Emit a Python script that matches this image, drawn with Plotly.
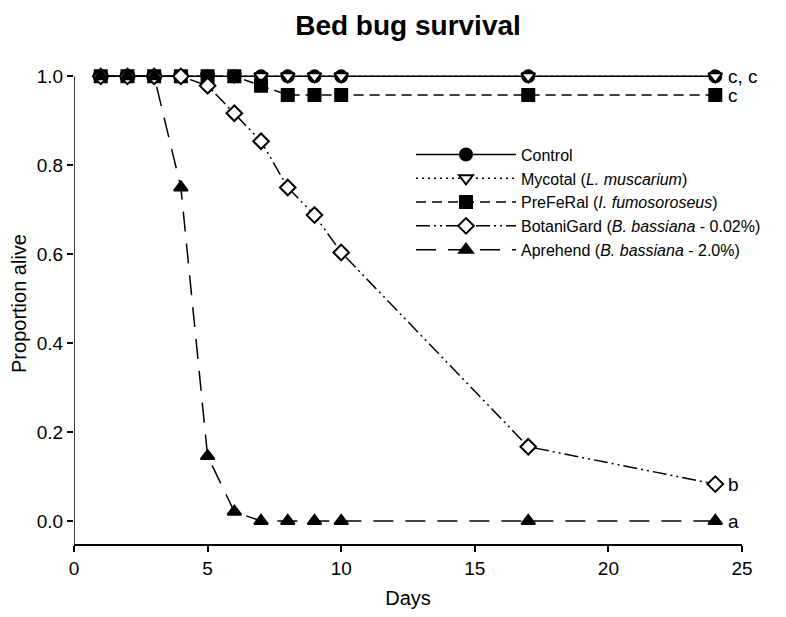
import plotly.graph_objects as go

# Jours d'observation
days = [1, 2, 3, 4, 5, 6, 7, 8, 9, 10, 17, 24]

# Proportion vivante par traitement
control = [1, 1, 1, 1, 1, 1, 1, 1, 1, 1, 1, 1]
mycotal = [1, 1, 1, 1, 1, 1, 1, 1, 1, 1, 1, 1]
preferal = [1, 1, 1, 1, 1, 1, 0.979, 0.958, 0.958, 0.958, 0.958, 0.958]
botanigard = [1, 1, 1, 1, 0.979, 0.917, 0.854, 0.75, 0.688, 0.604, 0.167, 0.083]
aprehend = [1, 1, 1, 0.75, 0.146, 0.021, 0, 0, 0, 0, 0, 0]

# Lettres de significativité (dernier jour)
letters = ["c, c", "c", "b", "a"]
letter_y = [1.0, 0.958, 0.083, 0.0]

FONT = "Liberation Sans, Arial, sans-serif"

series = [
    ("Control", control, "solid", "circle", "black"),
    ("Mycotal (<i>L. muscarium</i>)", mycotal, "2px,4px", "triangle-down", "white"),
    ("PreFeRal (<i>I. fumosoroseus</i>)", preferal, "10px,6px", "square", "black"),
    ("BotaniGard (<i>B. bassiana</i> - 0.02%)", botanigard, "14px,4px,2px,4px,2px,4px", "diamond", "white"),
    ("Aprehend (<i>B. bassiana</i> - 2.0%)", aprehend, "20px,12px", "triangle-up", "black"),
]

fig = go.Figure()
for name, vals, dash, symbol, fill in series:
    fig.add_trace(go.Scatter(
        x=days, y=vals, name=name, mode="lines+markers",
        line=dict(color="black", width=1.5, dash=dash),
        marker=dict(symbol=symbol, size=12, color=fill,
                    line=dict(color="black", width=2)),
        cliponaxis=False,
    ))

for txt, yv in zip(letters, letter_y):
    fig.add_annotation(x=24, y=yv, text=txt, showarrow=False, xanchor="left",
                       xshift=11, font=dict(size=19, color="black", family=FONT))

# axe vertical dessiné à la main (s'arrête à 1.0)
fig.add_shape(type="line", xref="x", yref="y", x0=0, x1=0, y0=-0.0517, y1=1.0,
              line=dict(color="black", width=1.5))

# la page ajoute 8px de marge autour du graphique -> on compense
fig.update_layout(
    width=770, height=601,
    margin=dict(l=66, r=34, t=54.65, b=65),
    paper_bgcolor="white", plot_bgcolor="white",
    font=dict(family=FONT, size=19, color="black"),
    title=dict(text="<b>Bed bug survival</b>", x=0.5, xref="paper", xanchor="center",
               y=0.972, yref="container", yanchor="middle", font=dict(size=28, family=FONT)),
    showlegend=True,
    legend=dict(x=0.5045, y=0.845, xanchor="left", yanchor="top", itemwidth=100,
                bgcolor="rgba(0,0,0,0)", font=dict(size=16, family=FONT),
                tracegroupgap=0, itemsizing="trace"),
    xaxis=dict(range=[0, 25], tickvals=[0, 5, 10, 15, 20, 25], showgrid=False, zeroline=False,
               showline=True, linecolor="black", linewidth=1.5, ticks="outside", ticklen=6,
               tickwidth=1.5, tickcolor="black", automargin=False,
               title=dict(text="Days", font=dict(size=20), standoff=18),
               tickfont=dict(size=19)),
    yaxis=dict(range=[-0.0517, 1.03], tickvals=[0, 0.2, 0.4, 0.6, 0.8, 1.0], tickformat=".1f",
               showgrid=False, zeroline=False, showline=False, ticks="outside", ticklen=6,
               tickwidth=1.5, tickcolor="black", automargin=False,
               title=dict(text="Proportion alive", font=dict(size=20), standoff=14),
               tickfont=dict(size=19)),
)

fig.write_html("out.html")
